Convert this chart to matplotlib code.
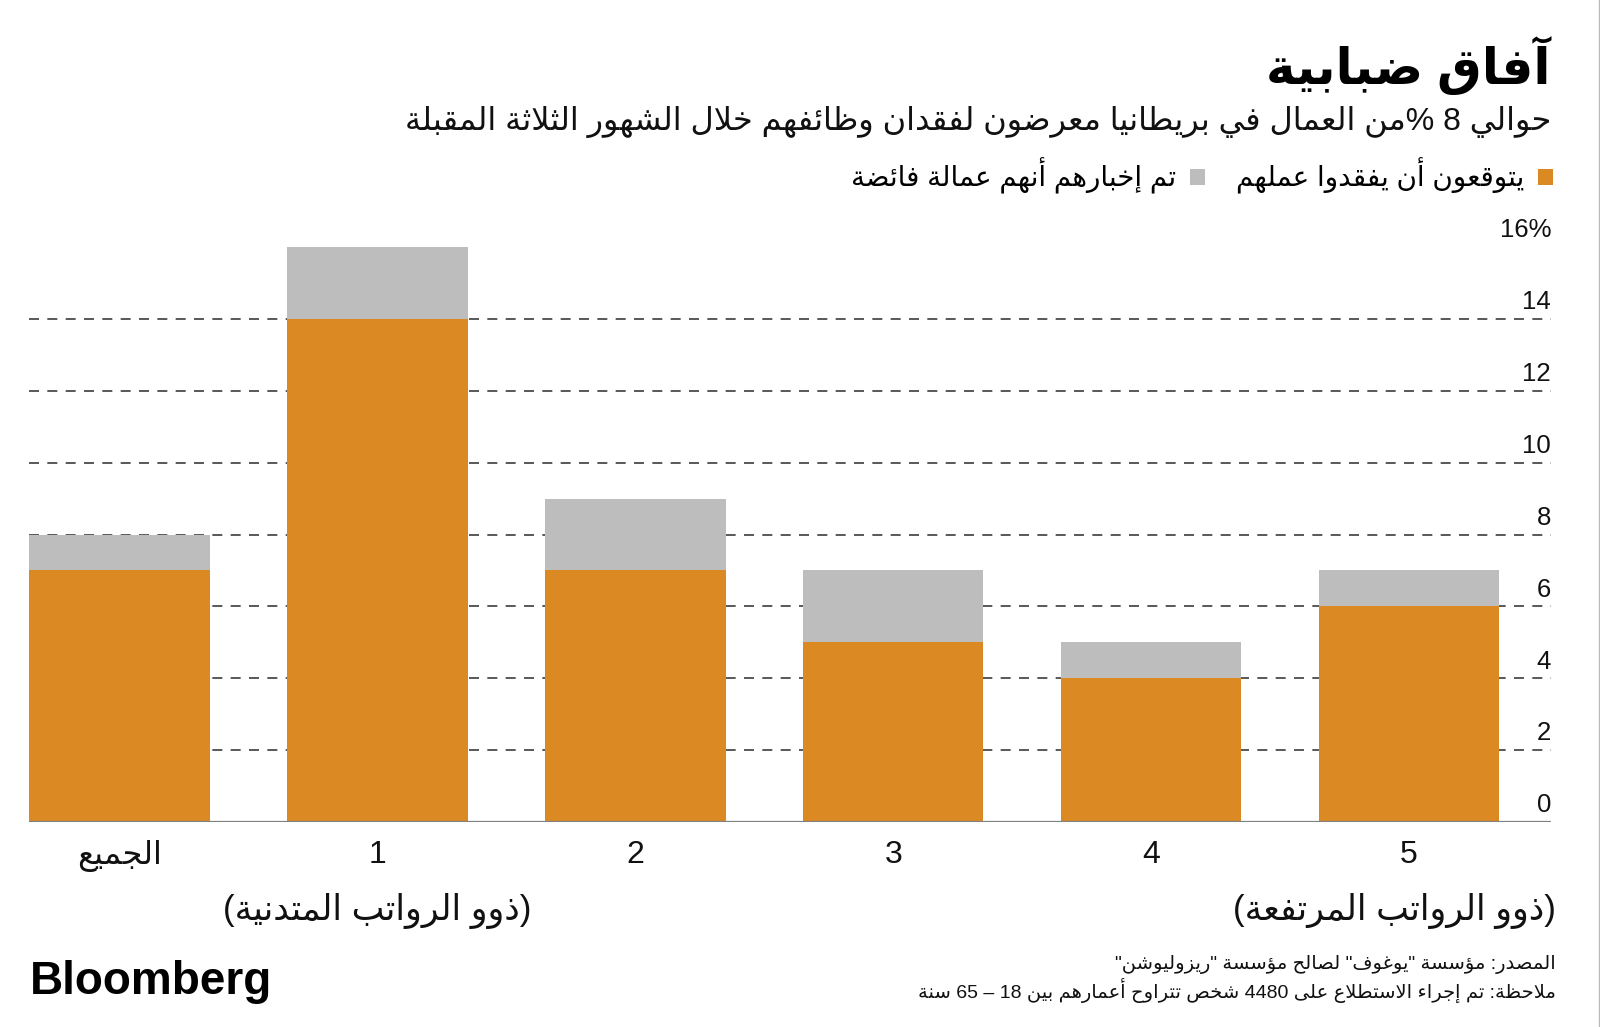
import re
import matplotlib
matplotlib.use('Agg')
import matplotlib.pyplot as plt
import matplotlib.transforms as mtransforms
from matplotlib.lines import Line2D

# --- DATA ---
categories = ['الجميع', '1', '2', '3', '4', '5']
expect_loss = [7, 14, 7, 5, 4, 6]        # orange: expect to lose their job
told_redundant = [1, 2, 2, 2, 1, 1]      # grey: told they are redundant
ytick_values = [0, 2, 4, 6, 8, 10, 12, 14, 16]
ytick_labels = ['0', '2', '4', '6', '8', '10', '12', '14', '16%']
grid_values = [2, 4, 6, 8, 10, 12, 14]

TITLE = 'آفاق ضبابية'
SUBTITLE = 'حوالي 8 %من العمال في بريطانيا معرضون لفقدان وظائفهم خلال الشهور الثلاثة المقبلة'
LEGEND_ORANGE = 'يتوقعون أن يفقدوا عملهم'
LEGEND_GRAY = 'تم إخبارهم أنهم عمالة فائضة'
LOW_PAY = '(ذوو الرواتب المتدنية)'
HIGH_PAY = '(ذوو الرواتب المرتفعة)'
SOURCE = 'المصدر: مؤسسة "يوغوف" لصالح مؤسسة "ريزوليوشن"'
NOTE = 'ملاحظة: تم إجراء الاستطلاع على 4480 شخص تتراوح أعمارهم بين 18 – 65 سنة'

ORANGE = '#DA8923'
GRAY = '#BDBDBD'
TEXT = '#111111'

# --- ARABIC SHAPING (matplotlib has no RTL / joining support) ---
# presentation forms B: isolated, final, initial, medial
LETTERS = 'ءآأؤإئابةتثجحخدذرزسشصضطظعغفقكلمنهوىي'
N_FORMS = [1, 2, 2, 2, 2, 4, 2, 4, 2, 4, 4, 4, 4, 4, 2, 2, 2, 2,
           4, 4, 4, 4, 4, 4, 4, 4, 4, 4, 4, 4, 4, 4, 4, 2, 2, 4]
FORMS = {}
cp = 0xFE80
for ch, n in zip(LETTERS, N_FORMS):
    FORMS[ch] = (cp, n)
    cp += n
LAM_ALEF = {'آ': 0xFEF5, 'أ': 0xFEF7, 'إ': 0xFEF9, 'ا': 0xFEFB}


def shape(text):
    out = []
    i = 0
    while i < len(text):
        c = text[i]
        if c not in FORMS:
            out.append(c)
            i += 1
            continue
        prev = text[i - 1] if i > 0 else ''
        joins_prev = prev in FORMS and FORMS[prev][1] == 4
        nxt = text[i + 1] if i + 1 < len(text) else ''
        if c == 'ل' and nxt in LAM_ALEF:
            out.append(chr(LAM_ALEF[nxt] + (1 if joins_prev else 0)))
            i += 2
            continue
        base, n = FORMS[c]
        joins_next = n == 4 and nxt in FORMS and FORMS[nxt][1] >= 2
        if n == 1:
            form = 0
        elif joins_prev and joins_next:
            form = 3
        elif joins_prev:
            form = 1
        elif joins_next:
            form = 2
        else:
            form = 0
        out.append(chr(base + form))
        i += 1
    return ''.join(out)


def ar(text):
    """Shape and put into visual (left-to-right) order, keeping numbers intact."""
    tokens = re.findall(r'[0-9A-Za-z]+|.', shape(text))
    tokens.reverse()
    swap = {'(': ')', ')': '('}
    return ''.join(swap.get(t, t) for t in tokens)


plt.rcParams['font.family'] = ['Liberation Sans', 'DejaVu Sans']

fig = plt.figure(figsize=(16, 10.27), dpi=100)
W, H = 1600, 1027


def fx(px):
    return px / W


def fy(py):
    return 1 - py / H


ax = fig.add_axes([fx(29), fy(822), (1551 - 29) / W, (822 - 247) / H])

x = list(range(len(categories)))
bar_orange = ax.bar(x, expect_loss, width=0.7, color=ORANGE, zorder=2)
bar_gray = ax.bar(x, told_redundant, bottom=expect_loss, width=0.7, color=GRAY, zorder=2)

ax.set_xlim(-0.35, 5.55)
ax.set_ylim(0, 16)

for v in grid_values:
    ax.axhline(v, color='#3C3C3C', lw=1.2, linestyle=(0, (6, 5)), zorder=1)
ax.axhline(0, color='#808080', lw=1.6, zorder=3)

for s in ax.spines.values():
    s.set_visible(False)

# y labels on the right, sitting above their grid lines
ax.yaxis.tick_right()
ax.set_yticks(ytick_values, labels=ytick_labels)
ax.tick_params(axis='y', length=0, pad=0, labelsize=18.5, labelcolor=TEXT)
offset = mtransforms.ScaledTranslation(0, 7 / 72, fig.dpi_scale_trans)
for lab in ax.get_yticklabels():
    lab.set_horizontalalignment('right')
    lab.set_verticalalignment('baseline')
    lab.set_transform(lab.get_transform() + offset)

ax.set_xticks(x, labels=[ar(c) for c in categories])
ax.tick_params(axis='x', length=0, pad=13, labelsize=23, labelcolor=TEXT)

# pay band notes under the axis
trans = mtransforms.blended_transform_factory(ax.transData, fig.transFigure)
ax.text(1, fy(911), ar(LOW_PAY), transform=trans, ha='center', va='center',
        fontsize=25, color=TEXT)
fig.text(fx(1556), fy(911), ar(HIGH_PAY), ha='right', va='center',
         fontsize=25, color=TEXT)

# title block
fig.text(fx(1551), fy(66), ar(TITLE), ha='right', va='center',
         fontsize=36, fontweight='bold', color='black')
fig.text(fx(1551), fy(122), ar(SUBTITLE), ha='right', va='center',
         fontsize=23, color=TEXT)

fig.legend(handles=[bar_gray, bar_orange], labels=[ar(LEGEND_GRAY), ar(LEGEND_ORANGE)],
           loc='center right', bbox_to_anchor=(fx(1553), fy(176)), ncol=2,
           markerfirst=False, frameon=False, fontsize=20,
           handlelength=0.55, handleheight=0.55, handletextpad=0.5,
           columnspacing=1.1, borderaxespad=0, borderpad=0)

# footer
fig.text(fx(1556), fy(965), ar(SOURCE), ha='right', va='center', fontsize=14, color=TEXT)
fig.text(fx(1556), fy(990), ar(NOTE), ha='right', va='center', fontsize=14, color=TEXT)
fig.text(fx(30), fy(982), 'Bloomberg', ha='left', va='center', fontsize=33,
         fontweight='bold', color='black')

fig.add_artist(Line2D([0.9995, 0.9995], [0, 1], transform=fig.transFigure,
                      color='#BBBBBB', lw=1))

fig.savefig('out.png', dpi=100)
